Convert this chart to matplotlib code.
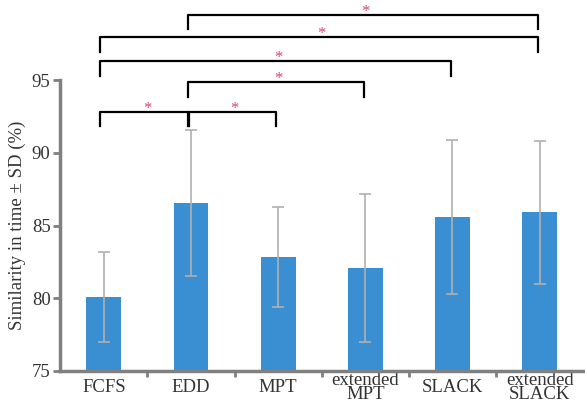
import matplotlib.pyplot as plt
import numpy as np

categories = ['FCFS', 'EDD', 'MPT', 'extended\nMPT', 'SLACK', 'extended\nSLACK']
means = [80.1, 86.55, 82.85, 82.1, 85.6, 85.9]
sds = [3.1, 5.05, 3.45, 5.1, 5.3, 4.95]

# significance brackets: (left, right), bar height, drop
pairs = [(0, 1), (1, 2), (1, 3), (0, 4), (0, 5), (1, 5)]
pair_heights = [92.8, 92.8, 94.85, 96.3, 97.95, 99.45]
pair_drops = [0.95, 0.95, 1.0, 1.0, 1.0, 0.9]

plt.rcParams['font.family'] = ['Liberation Serif', 'DejaVu Serif']

fig = plt.figure(figsize=(5.85, 4.05), dpi=100)
ax = fig.add_axes([0.103, 0.084, 0.894, 0.718])

x = np.arange(len(categories))
ax.bar(x, means, width=0.4, color='#3a8fd2', zorder=2)
ax.errorbar(x, means, yerr=sds, fmt='none', ecolor='#b0b0b0', elinewidth=1.2,
            capsize=4, capthick=1.2, zorder=3)

ax.set_xlim(-0.5, 5.5)
ax.set_ylim(75, 95)
ax.set_yticks([75, 80, 85, 90, 95])
ax.set_xticks(x)
ax.set_xticklabels(categories, fontsize=13.5, color='#333333', linespacing=0.72)
for lbl in ax.get_xticklabels():
    lbl.set_va('center')
ax.set_xticks(np.arange(0.5, 5.5, 1), minor=True)
ax.tick_params(axis='y', labelsize=13.5, labelcolor='#333333', color='#808080',
               length=5, width=2, direction='out', pad=2)
ax.tick_params(axis='x', which='major', length=0, pad=12)
ax.tick_params(axis='x', which='minor', length=4, width=2, color='#808080')
for side in ['top', 'right']:
    ax.spines[side].set_visible(False)
for side in ['left', 'bottom']:
    ax.spines[side].set_color('#808080')
    ax.spines[side].set_linewidth(2.5)
ax.set_ylabel('Similarity in time \u00b1 SD (%)', fontsize=13.5, color='#333333', labelpad=4)

for (a, b), h, d in zip(pairs, pair_heights, pair_drops):
    ax.plot([x[a] - 0.04, x[a] - 0.04, x[b] - 0.02, x[b] - 0.02],
            [h - d, h, h, h - d], color='black', lw=1.6, clip_on=False, zorder=4)
    ax.text((x[a] + x[b]) / 2, h + 0.22, '*', color='#d9466e', fontsize=12,
            ha='center', va='center', clip_on=False)

fig.savefig('out.png', dpi=100)
